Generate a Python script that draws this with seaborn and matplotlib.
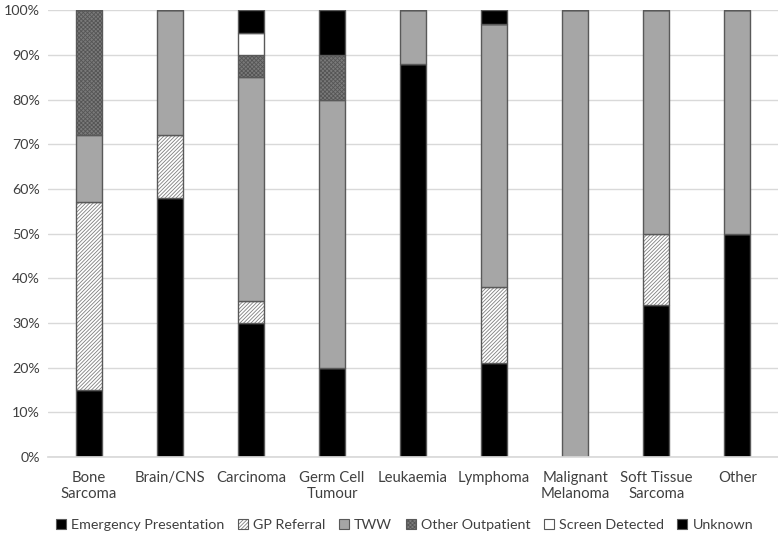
import numpy as np
import matplotlib
matplotlib.use("Agg")
import matplotlib.pyplot as plt
from matplotlib.patches import Patch
from matplotlib.colors import to_rgba
import seaborn as sns

# Categories (x axis)
categories = ["Bone\nSarcoma", "Brain/CNS", "Carcinoma", "Germ Cell\nTumour", "Leukaemia",
              "Lymphoma", "Malignant\nMelanoma", "Soft Tissue\nSarcoma", "Other"]

# Percentages per referral route
emergency = [15, 58, 30, 20, 88, 21, 0, 34, 50]
gp_referral = [42, 14, 5, 0, 0, 17, 0, 16, 0]
tww = [15, 28, 50, 60, 12, 59, 100, 50, 50]
other_outpatient = [28, 0, 5, 10, 0, 0, 0, 0, 0]
screen_detected = [0, 0, 5, 0, 0, 0, 0, 0, 0]
unknown = [0, 0, 5, 10, 0, 3, 0, 0, 0]

series_names = ["Emergency Presentation", "GP Referral", "TWW",
                "Other Outpatient", "Screen Detected", "Unknown"]
series_values = [emergency, gp_referral, tww, other_outpatient, screen_detected, unknown]
face_colors = ["#000000", "#ffffff", "#a6a6a6", "#7a7a7a", "#ffffff", "#000000"]
hatches = [None, "/////////", None, "xxxxxxxx", None, None]
hatch_colors = ["#000000", "#7f7f7f", "#a6a6a6", "#555555", "#ffffff", "#000000"]

sns.set_theme(style="white")
plt.rcParams["font.family"] = ["Lato", "DejaVu Sans"]
plt.rcParams["hatch.linewidth"] = 0.6

fig, ax = plt.subplots(figsize=(7.78, 5.35), dpi=100)


def color_hatch(patch, c):
    try:
        patch.set_hatchcolor(c)
    except AttributeError:
        patch._hatch_color = to_rgba(c)


bottom = np.zeros(len(categories))
for name, vals, fc, h, hc in zip(series_names, series_values, face_colors, hatches, hatch_colors):
    vals = np.array(vals, dtype=float)
    n_before = len(ax.patches)
    sns.barplot(x=categories, y=vals, bottom=bottom, color=fc, width=0.32,
                edgecolor="#595959", linewidth=1.0, hatch=h, saturation=1, ax=ax)
    for p in ax.patches[n_before:]:
        color_hatch(p, hc)
    bottom += vals

ax.set_ylim(0, 100)
ax.set_xlim(-0.5, len(categories) - 0.5)
ax.set_yticks(np.arange(0, 101, 10))
ax.set_yticklabels([f"{v}%" for v in range(0, 101, 10)])
ax.yaxis.grid(True, color="#d9d9d9", linewidth=1)
ax.set_axisbelow(True)
for s in ["top", "right", "left"]:
    ax.spines[s].set_visible(False)
ax.spines["bottom"].set_color("#d9d9d9")
ax.tick_params(axis="y", labelsize=10.3, colors="#404040", length=0, pad=6)
ax.tick_params(axis="x", labelsize=10.7, colors="#404040", length=0, pad=10)

handles = []
for name, fc, h, hc in zip(series_names, face_colors, hatches, hatch_colors):
    p = Patch(facecolor=fc, edgecolor="#595959", hatch=h, label=name, linewidth=0.8)
    color_hatch(p, hc)
    handles.append(p)
leg = fig.legend(handles=handles, loc="lower center", ncol=6, frameon=False,
                 fontsize=10.3, handlelength=0.7, handleheight=0.7, handletextpad=0.35,
                 columnspacing=0.95, bbox_to_anchor=(0.52, -0.016))
for t in leg.get_texts():
    t.set_color("#404040")

fig.subplots_adjust(left=0.062, right=1.0, top=0.981, bottom=0.146)
fig.savefig("out.png", dpi=100)
